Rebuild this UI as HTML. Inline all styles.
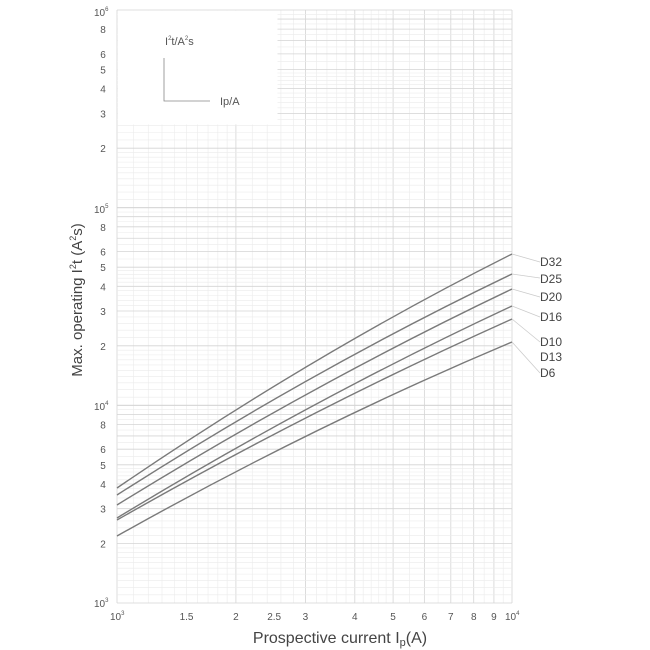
<!DOCTYPE html>
<html><head><meta charset="utf-8"><style>body{margin:0;background:#fff}svg{display:block;font-family:"Liberation Sans",sans-serif}</style></head>
<body>
<svg id="s" width="650" height="650" viewBox="0 0 650 650" xmlns="http://www.w3.org/2000/svg">
<g id="grid"></g>
<rect x="117.5" y="10.5" width="160" height="114" fill="#fff"/>
<g id="curves" fill="none" stroke="#7a7a7a" stroke-width="1.4"></g>
<g stroke="#ccc" stroke-width="0.8" fill="none">
<path d="M512 254 L540 262"/><path d="M512 274 L540 278"/><path d="M512 289 L540 297"/><path d="M512 306 L540 317"/><path d="M512 319 L540 342"/><path d="M512 342 L540 373"/>
</g>
<g font-size="12" fill="#444">
<text x="540" y="266">D32</text><text x="540" y="283">D25</text><text x="540" y="301">D20</text><text x="540" y="321">D16</text><text x="540" y="346">D10</text><text x="540" y="361">D13</text><text x="540" y="377">D6</text>
</g>
<g font-size="11" fill="#555">
<text x="165" y="45">I<tspan font-size="6" dy="-5">2</tspan><tspan dy="5">t/A</tspan><tspan font-size="6" dy="-5">2</tspan><tspan dy="5">s</tspan></text>
<text x="220" y="105">Ip/A</text>
</g>
<path d="M164 58 V101 H210" stroke="#888" fill="none" stroke-width="0.8"/>
<g id="labels" font-size="10" fill="#555"></g>
<text x="340" y="643" font-size="16" fill="#444" text-anchor="middle">Prospective current I<tspan font-size="11" dy="3">p</tspan><tspan dy="-3">(A)</tspan></text>
<text transform="translate(82,300) rotate(-90)" font-size="15" fill="#444" text-anchor="middle">Max. operating I<tspan font-size="9" dy="-6">2</tspan><tspan dy="6">t  (A</tspan><tspan font-size="9" dy="-6">2</tspan><tspan dy="6">s)</tspan></text>
</svg>
<script>
var ns="http://www.w3.org/2000/svg",x0=117,x1=512,yT=10,yB=603,dec=(yB-yT)/3;
function X(v){return x0+Math.log10(v/1000)*(x1-x0);}
function Y(v){return yB-Math.log10(v/1000)*dec;}
var g=document.getElementById('grid');
function ln(a,b,c,d,col,w){var l=document.createElementNS(ns,'line');l.setAttribute('x1',a);l.setAttribute('y1',b);l.setAttribute('x2',c);l.setAttribute('y2',d);l.setAttribute('stroke',col);l.setAttribute('stroke-width',w);g.appendChild(l);}
function minors(){var r=[];for(var v=1;v<2;v+=0.1)r.push(v);for(var v=2;v<5;v+=0.2)r.push(v);for(var v=5;v<=10.001;v+=0.5)r.push(v);return r;}
minors().forEach(function(v){var x=X(v*1000);var maj=Math.abs(v-Math.round(v))<1e-6;ln(x,yT,x,yB,maj?'#d4d4d4':'#ebebeb',maj?0.8:0.6);});
for(var d=0;d<3;d++)minors().forEach(function(v){var y=Y(v*1000*Math.pow(10,d));var maj=Math.abs(v-Math.round(v))<1e-6;ln(x0,y,x1,y,maj?'#d4d4d4':'#ebebeb',maj?0.8:0.6);});
var L=document.getElementById('labels');
function t(x,y,s,a){var e=document.createElementNS(ns,'text');e.setAttribute('x',x);e.setAttribute('y',y);if(a)e.setAttribute('text-anchor',a);e.innerHTML=s;L.appendChild(e);}
[[1.5,'1.5'],[2,'2'],[2.5,'2.5'],[3,'3'],[4,'4'],[5,'5'],[6,'6'],[7,'7'],[8,'8'],[9,'9']].forEach(function(p){t(X(p[0]*1000),620,p[1],'middle');});
t(110,620,'10<tspan font-size="6" dy="-5">3</tspan>');t(505,620,'10<tspan font-size="6" dy="-5">4</tspan>');
for(var d=0;d<3;d++){[2,3,4,5,6,8].forEach(function(v){t(103,Y(v*1000*Math.pow(10,d))+4,v,'middle');});}
t(94,607,'10<tspan font-size="6" dy="-5">3</tspan>');t(94,410,'10<tspan font-size="6" dy="-5">4</tspan>');t(94,213,'10<tspan font-size="6" dy="-5">5</tspan>');t(94,16,'10<tspan font-size="6" dy="-5">6</tspan>');
var C=[[488,254,-18],[495,274,-16],[505,289,-14],[518,306,-14],[520,319,-12],[536,342,-14]];
var cg=document.getElementById('curves');
C.forEach(function(c){var cx=(x0+x1)/2,cy=(c[0]+c[1])/2+c[2];var pa=document.createElementNS(ns,'path');pa.setAttribute('d','M'+x0+','+c[0]+' Q'+cx+','+cy+' '+x1+','+c[1]);cg.appendChild(pa);});
</script>
</body></html>
